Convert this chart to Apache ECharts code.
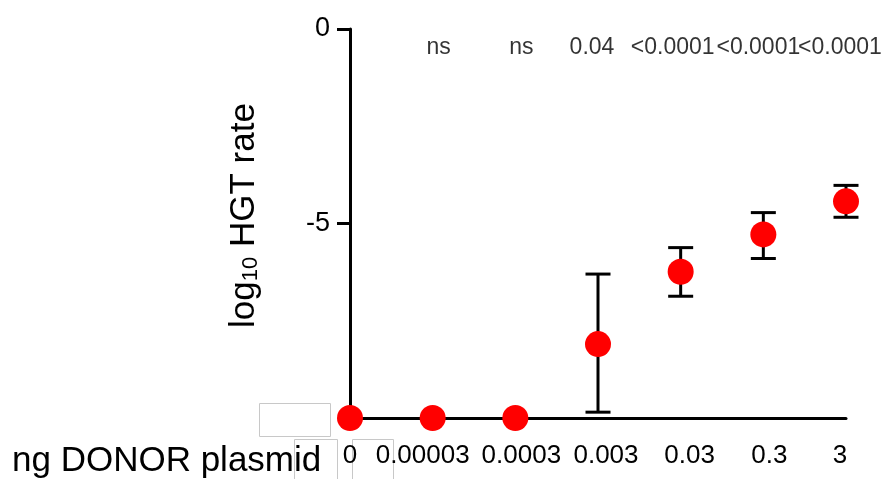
<!DOCTYPE html>
<html>
<head>
<meta charset="utf-8">
<script src="https://cdn.jsdelivr.net/npm/echarts@6/dist/echarts.min.js"></script>
<style>html,body{margin:0;padding:0;background:#fff;}#c{width:890px;height:479px;}</style>
</head>
<body>
<div id="c"></div>
<script>
var categories = ['0', '0.00003', '0.0003', '0.003', '0.03', '0.3', '3'];
var means = [-10, -10, -10, -8.1, -6.24, -5.28, -4.43];
var errLow = [null, null, null, -9.85, -6.87, -5.9, -4.84];
var errHigh = [null, null, null, -6.3, -5.62, -4.72, -4.02];
var pLabels = ['', 'ns', 'ns', '0.04', '<0.0001', '<0.0001', '<0.0001'];
var yTicks = [0, -5];

var FONT = 'Liberation Sans, Arial, sans-serif';
var chart = echarts.init(document.getElementById('c'));

var errData = [];
for (var i = 0; i < categories.length; i++) {
  if (errLow[i] !== null) errData.push([i, errLow[i], errHigh[i]]);
}
var pData = [];
var pOffsets = [0, 6, 6, -6, -8, -5, -6];
for (var j = 0; j < categories.length; j++) {
  if (pLabels[j]) pData.push({value: [j, -0.47], label: {formatter: pLabels[j], offset: [pOffsets[j], 0]}});
}

// small horizontal shifts of the tick labels, as in the reference layout
var labelShift = [0, -10, 6, 8, 9, 6, -6];
var labelRich = {};
for (var k = 0; k < categories.length; k++) {
  var d = labelShift[k];
  labelRich['t' + k] = {
    fontSize: 26, fontFamily: FONT, color: '#000',
    padding: [0, d < 0 ? -2 * d : 0, 0, d > 0 ? 2 * d : 0]
  };
}

chart.setOption({
  animation: false,
  grid: {left: 350, right: 44, top: 29, bottom: 61},
  xAxis: {
    type: 'category',
    data: categories,
    boundaryGap: false,
    axisLine: {onZero: false, lineStyle: {color: '#000', width: 3}},
    axisTick: {show: false},
    axisLabel: {
      color: '#000', fontSize: 26, fontFamily: FONT, margin: 25, interval: 0,
      formatter: function (v, idx) { return '{t' + idx + '|' + v + '}'; },
      rich: labelRich
    }
  },
  yAxis: {
    type: 'value',
    min: -10, max: 0, interval: 5,
    name: '{a|log}{b|10}{a| HGT rate}',
    nameLocation: 'middle',
    nameGap: 88,
    nameTextStyle: {
      color: '#000', fontFamily: FONT, padding: [0, 0, 0, 16],
      rich: {
        a: {fontSize: 35, fontFamily: FONT, color: '#000'},
        b: {fontSize: 22, fontFamily: FONT, color: '#000', verticalAlign: 'bottom', padding: [12, 0, 0, 0]}
      }
    },
    axisLine: {show: true, lineStyle: {color: '#000', width: 3}},
    axisTick: {show: true, length: 13, lineStyle: {color: '#000', width: 3},
      customValues: yTicks},
    axisLabel: {color: '#000', fontSize: 27, fontFamily: FONT, margin: 20,
      customValues: yTicks},
    splitLine: {show: false}
  },
  graphic: [
    {type: 'text', x: 12, y: 461, style: {text: 'ng DONOR plasmid', fontSize: 35, fontFamily: FONT, fill: '#000', verticalAlign: 'middle'}},
    {type: 'rect', shape: {x: 259.5, y: 403.5, width: 71, height: 33}, style: {fill: 'none', stroke: '#c8c8c8', lineWidth: 1}, z: 0},
    {type: 'polyline', shape: {points: [[294.5, 479], [294.5, 439.5], [337.5, 439.5], [337.5, 479]]}, style: {fill: 'none', stroke: '#c8c8c8', lineWidth: 1}, z: 0},
    {type: 'polyline', shape: {points: [[352.5, 479], [352.5, 439.5], [393.5, 439.5], [393.5, 479]]}, style: {fill: 'none', stroke: '#c8c8c8', lineWidth: 1}, z: 0}
  ],
  series: [
    {
      type: 'custom',
      data: errData,
      z: 3,
      renderItem: function (params, api) {
        var x = api.value(0);
        var lo = api.coord([x, api.value(1)]);
        var hi = api.coord([x, api.value(2)]);
        var hw = 12.5;
        var st = {stroke: '#000', lineWidth: 3};
        return {type: 'group', children: [
          {type: 'line', shape: {x1: lo[0], y1: lo[1], x2: hi[0], y2: hi[1]}, style: st},
          {type: 'line', shape: {x1: lo[0] - hw, y1: lo[1], x2: lo[0] + hw, y2: lo[1]}, style: st},
          {type: 'line', shape: {x1: hi[0] - hw, y1: hi[1], x2: hi[0] + hw, y2: hi[1]}, style: st}
        ]};
      }
    },
    {
      type: 'scatter',
      data: means.map(function (v, k) { return [k, v]; }),
      symbol: 'circle',
      symbolSize: 26,
      itemStyle: {color: '#ff0000', opacity: 1},
      z: 5,
      clip: false
    },
    {
      type: 'scatter',
      data: pData,
      symbolSize: 0,
      silent: true,
      label: {show: true, position: 'inside', color: '#000', fontSize: 23, fontFamily: FONT}
    }
  ]
});
</script>
</body>
</html>
